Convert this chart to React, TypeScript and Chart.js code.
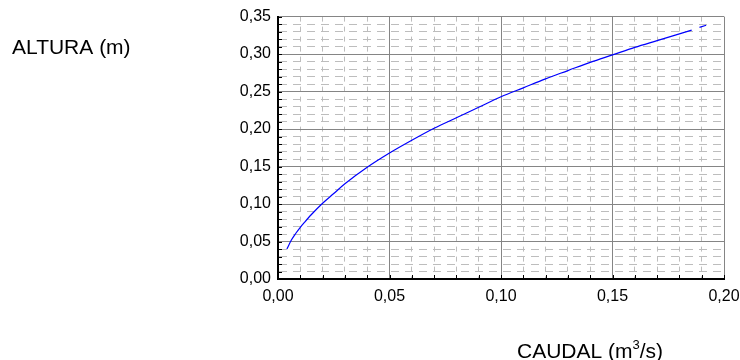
import React, { useEffect, useRef } from "react";
import { Chart, registerables } from "chart.js";

Chart.register(...registerables);

// Data (CAUDAL m3/s vs ALTURA m)
const caudal = [0.004, 0.006, 0.008, 0.01, 0.012, 0.015, 0.02, 0.025, 0.03, 0.04, 0.05, 0.06, 0.07, 0.08, 0.09, 0.1, 0.11, 0.12, 0.13, 0.14, 0.15, 0.16, 0.17, 0.18, 0.1855, 0.187, 0.189, 0.192];
const altura = [0.04, 0.052, 0.061, 0.069, 0.076, 0.086, 0.101, 0.114, 0.127, 0.149, 0.168, 0.185, 0.201, 0.215, 0.229, 0.243, 0.255, 0.267, 0.278, 0.289, 0.299, 0.309, 0.318, 0.327, 0.332, null, 0.3356, 0.3385];

const xMin = 0;
const xMax = 0.2;
const xMajorStep = 0.05;
const xMinorStep = 0.01;
const yMin = 0;
const yMax = 0.35;
const yMajorStep = 0.05;
const yMinorStep = 0.01;

const yTitle = "ALTURA (m)";
const xTitleMain = "CAUDAL (m";
const xTitleSup = "3";
const xTitleEnd = "/s)";

const FONT = "Arial, 'Liberation Sans', sans-serif";

const isMajor = (v: number, step: number) => Math.abs(v / step - Math.round(v / step)) < 1e-6;
const fmt = (v: number) => Number(v).toFixed(2).replace(".", ",");

const insideTicks = {
  id: "insideTicks",
  afterDraw(chart: any) {
    const { ctx, chartArea } = chart;
    const xs = chart.scales.x;
    const ys = chart.scales.y;
    ctx.save();
    ctx.strokeStyle = "#000";
    ctx.lineWidth = 1;
    ctx.beginPath();
    ys.ticks.forEach((t: any) => {
      const py = Math.round(ys.getPixelForValue(t.value)) + 0.5;
      ctx.moveTo(chartArea.left, py);
      ctx.lineTo(chartArea.left + 4, py);
    });
    xs.ticks.forEach((t: any) => {
      const px = Math.round(xs.getPixelForValue(t.value)) + 0.5;
      ctx.moveTo(px, chartArea.bottom);
      ctx.lineTo(px, chartArea.bottom - 4);
    });
    ctx.stroke();
    ctx.restore();
  },
};

const titles = {
  id: "titles",
  afterDraw(chart: any) {
    const { ctx } = chart;
    ctx.save();
    ctx.fillStyle = "#000";
    ctx.textBaseline = "alphabetic";
    ctx.textAlign = "left";
    ctx.font = `21px ${FONT}`;
    ctx.fillText(yTitle, 12, 53.5);
    let x = 517;
    const base = 357.5;
    ctx.fillText(xTitleMain, x, base);
    x += ctx.measureText(xTitleMain).width;
    ctx.font = `13px ${FONT}`;
    ctx.fillText(xTitleSup, x, base - 9);
    x += ctx.measureText(xTitleSup).width;
    ctx.font = `21px ${FONT}`;
    ctx.fillText(xTitleEnd, x, base);
    ctx.restore();
  },
};

export default function App() {
  const ref = useRef<HTMLCanvasElement | null>(null);

  useEffect(() => {
    if (!ref.current) return;
    const points = caudal.map((q, i) => ({ x: q, y: altura[i] }));
    const chart = new Chart(ref.current, {
      type: "line",
      data: {
        datasets: [
          {
            data: points as any,
            borderColor: "#0000ff",
            borderWidth: 1.2,
            pointRadius: 0,
            fill: false,
            spanGaps: false,
            cubicInterpolationMode: "monotone",
          },
        ],
      },
      options: {
        animation: false,
        responsive: false,
        maintainAspectRatio: false,
        layout: { padding: { left: 0, right: 0, top: 16, bottom: 0 } },
        plugins: { legend: { display: false }, tooltip: { enabled: false } },
        scales: {
          x: {
            type: "linear",
            min: xMin,
            max: xMax,
            afterFit: (s: any) => {
              s.height = 81;
              s.paddingLeft = 0;
              s.paddingRight = 16;
            },
            ticks: {
              stepSize: xMinorStep,
              maxTicksLimit: 100,
              autoSkip: false,
              maxRotation: 0,
              padding: 8,
              color: "#000",
              font: { family: FONT, size: 16 },
              callback: (v: any) => (isMajor(Number(v), xMajorStep) ? fmt(Number(v)) : ""),
            },
            grid: {
              drawTicks: false,
              lineWidth: 1,
              color: (c: any) => (c.tick && isMajor(c.tick.value, xMajorStep) ? "#858585" : "#bdbdbd"),
            },
            border: {
              color: "#000",
              width: 2,
              dash: (c: any) => (c.tick && !isMajor(c.tick.value, xMajorStep) ? [5, 5] : []),
            },
          },
          y: {
            type: "linear",
            min: yMin,
            max: yMax,
            afterFit: (s: any) => {
              s.width = 278;
            },
            ticks: {
              stepSize: yMinorStep,
              maxTicksLimit: 100,
              autoSkip: false,
              padding: 7,
              color: "#000",
              font: { family: FONT, size: 16 },
              callback: (v: any) => (isMajor(Number(v), yMajorStep) ? fmt(Number(v)) : ""),
            },
            grid: {
              drawTicks: false,
              lineWidth: 1,
              color: (c: any) => (c.tick && isMajor(c.tick.value, yMajorStep) ? "#858585" : "#bdbdbd"),
            },
            border: {
              color: "#000",
              width: 2,
              dash: (c: any) => (c.tick && !isMajor(c.tick.value, yMajorStep) ? [8, 6] : []),
            },
          },
        },
      },
      plugins: [insideTicks, titles],
    } as any);
    return () => chart.destroy();
  }, []);

  return (
    <div style={{ position: "absolute", left: 0, top: 0, width: 740, height: 360, background: "#fff" }}>
      <canvas ref={ref} width={740} height={360} style={{ display: "block", width: 740, height: 360 }} />
    </div>
  );
}
